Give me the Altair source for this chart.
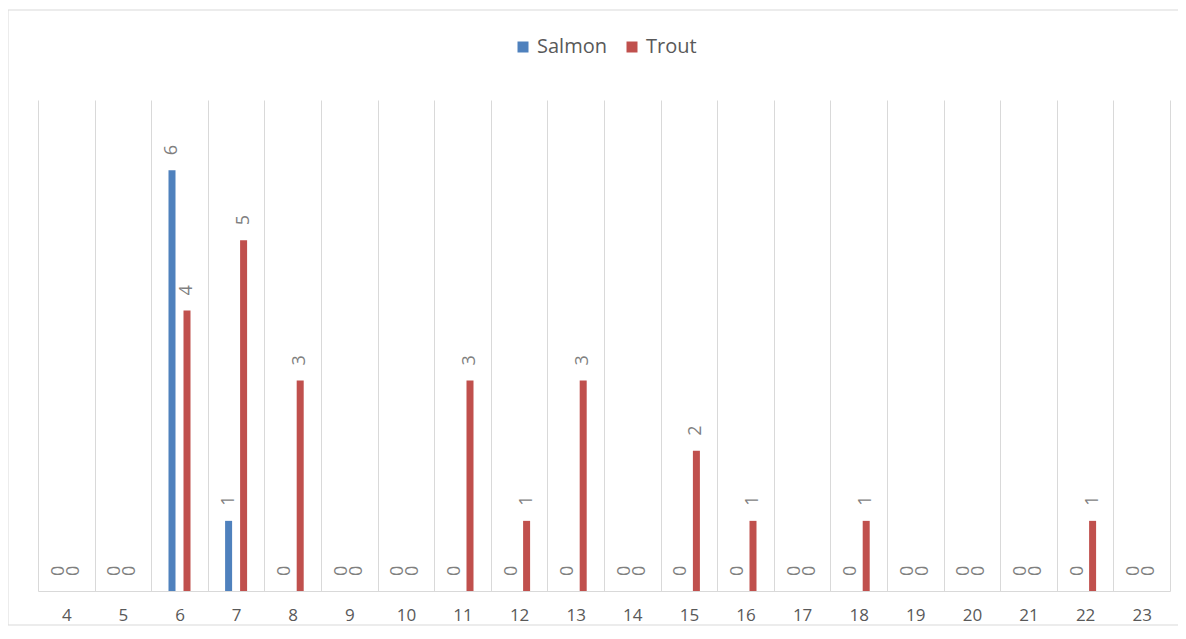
import altair as alt
import pandas as pd

categories = list(range(4, 24))
series_names = ["Salmon", "Trout"]
salmon = [0, 0, 6, 1, 0, 0, 0, 0, 0, 0, 0, 0, 0, 0, 0, 0, 0, 0, 0, 0]
trout = [0, 0, 4, 5, 3, 0, 0, 3, 1, 3, 0, 2, 1, 0, 1, 0, 0, 0, 1, 0]
colors = ["#4F81BD", "#C0504D"]

rows = []
for c, s, t in zip(categories, salmon, trout):
    rows.append({"cat": c, "series": "Salmon", "value": s})
    rows.append({"cat": c, "series": "Trout", "value": t})
df = pd.DataFrame(rows)

FONT = "Open Sans"

x_enc = alt.X(
    "cat:O",
    scale=alt.Scale(paddingInner=0, paddingOuter=0),
    axis=alt.Axis(
        title=None, labelAngle=0, tickBand="extent", grid=True,
        gridColor="#d9d9d9", gridWidth=1, ticks=False,
        domainColor="#d9d9d9", labelFontSize=17, labelColor="#595959",
        labelPadding=16, labelFont=FONT,
    ),
)
xo_enc = alt.XOffset(
    "series:N",
    scale=alt.Scale(domain=series_names, range=[17.3, 39.3],
                    paddingInner=0.533, paddingOuter=0),
)
y_enc = alt.Y("value:Q", scale=alt.Scale(domain=[0, 7]), axis=None)

bars = alt.Chart(df).mark_bar().encode(
    x=x_enc,
    xOffset=xo_enc,
    y=y_enc,
    color=alt.Color(
        "series:N",
        scale=alt.Scale(domain=series_names, range=colors),
        legend=alt.Legend(
            orient="none", legendX=475, legendY=-63, direction="horizontal",
            title=None, symbolType="square", symbolSize=121,
            symbolStrokeWidth=0, labelFontSize=20, labelColor="#595959",
            labelFont=FONT, labelOffset=4, columnPadding=15,
        ),
    ),
)

labels = alt.Chart(df).mark_text(
    angle=270, align="left", baseline="middle", dx=15,
    fontSize=18, color="#7f7f7f", font=FONT,
).encode(
    x=x_enc,
    xOffset=xo_enc,
    y=y_enc,
    text=alt.Text("value:Q"),
)

border = alt.Chart(alt.Data(values=[{"a": 1}])).mark_rect(
    filled=False, stroke="#d9d9d9", strokeWidth=1
).encode(
    x=alt.value(-30), x2=alt.value(1145), y=alt.value(-90), y2=alt.value(525)
)

chart = alt.layer(border, bars, labels).properties(
    width=1132, height=491,
    autosize=alt.AutoSizeParams(type="none"),
    padding={"left": 30, "top": 92, "right": 8, "bottom": 35},
).configure_view(stroke=None)

chart.save("out.html", embed_options={"renderer": "svg", "actions": False})
